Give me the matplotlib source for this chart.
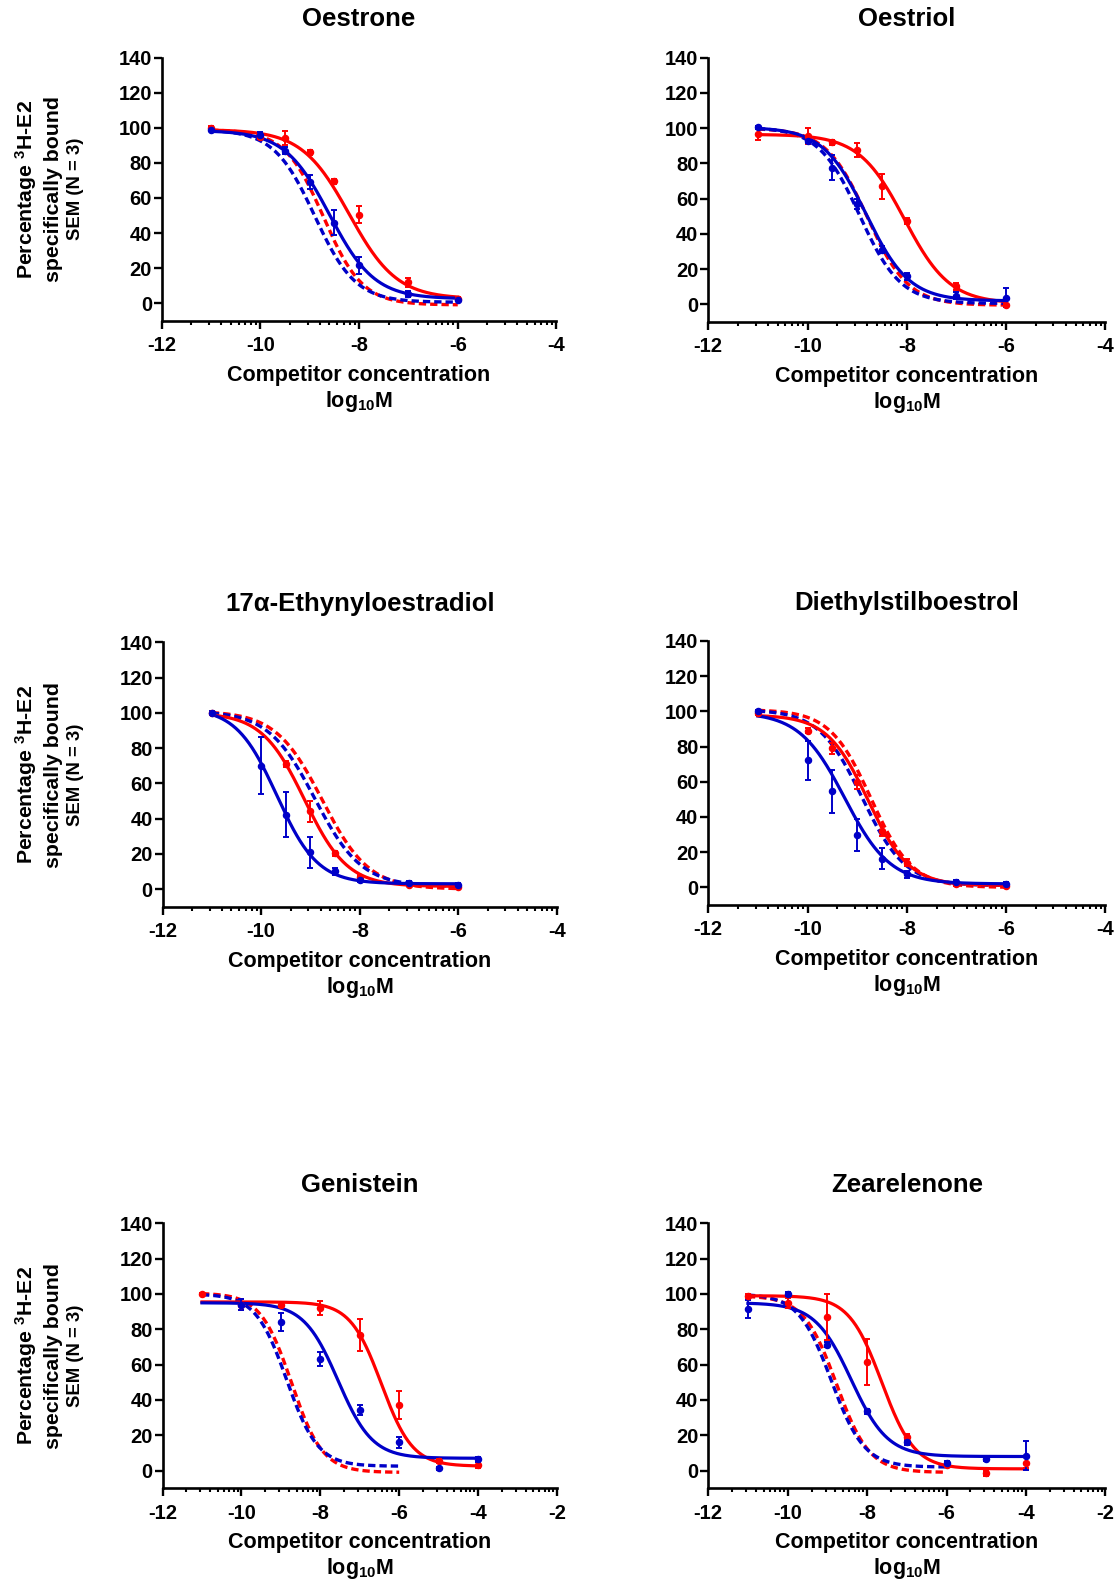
import numpy as np
import matplotlib
matplotlib.use("Agg")
import matplotlib.pyplot as plt

plt.rcParams["font.family"] = ["Liberation Sans", "DejaVu Sans"]
plt.rcParams["font.weight"] = "bold"
plt.rcParams["mathtext.fontset"] = "custom"
plt.rcParams["mathtext.rm"] = "Liberation Sans:bold"
plt.rcParams["mathtext.bf"] = "Liberation Sans:bold"
plt.rcParams["mathtext.it"] = "Liberation Sans:bold"
plt.rcParams["mathtext.default"] = "rm"

W, H = 1116, 1579
RED = "#ff0000"
BLUE = "#0000c8"

# competitor concentrations, log10 M
dose_a = [-11, -10, -9.5, -9, -8.5, -8, -7, -6]
dose_b = [-11, -10, -9, -8, -7, -6, -5, -4]

# mean % bound and SEM
oestrone_red = [100, 95, 94.3, 86, 69.5, 50.5, 12, 2.3]
oestrone_red_sem = [1, 1.5, 4, 1.5, 1.5, 5, 2.5, 1]
oestrone_blue = [99, 96, 87, 69, 46, 21.5, 5.3, 2]
oestrone_blue_sem = [1, 1.5, 2, 4, 7, 5, 1.5, 1]

oestriol_red = [96.5, 95.5, 92, 87.7, 67, 47.3, 10.4, -0.6]
oestriol_red_sem = [3, 4.5, 1.5, 4, 7, 1.5, 2, 1]
oestriol_blue = [100.4, 93, 77.5, 57, 31, 16, 5, 3.8]
oestriol_blue_sem = [1, 1.5, 7, 3, 2, 2, 2, 5.5]

ee2_red_x = [-11, -9.5, -9, -8.5, -8, -7, -6]
ee2_red = [100, 70.9, 44.2, 20.2, 7, 2.3, 1]
ee2_red_sem = [1, 1.5, 6, 1.5, 1, 0.8, 0.8]
ee2_blue = [100, 70, 42.3, 20.8, 10.2, 5.1, 3.6, 2.3]
ee2_blue_sem = [1, 16, 13, 9, 2, 1, 1, 1]

des_red = [98.9, 89, 79, 60, 32.2, 14, 1.9, 1]
des_red_sem = [1, 1.5, 3, 4, 3, 2, 1, 1]
des_blue = [100, 72.3, 54.5, 29.7, 16.3, 7.6, 3, 2]
des_blue_sem = [1, 11, 12, 9, 6, 2, 1, 1]

gen_red = [100, 94, 94, 92, 77, 37, 5.5, 3.2]
gen_red_sem = [0.8, 3, 1.5, 4, 9, 8, 1, 1.5]
gen_blue_x = [-10, -9, -8, -7, -6, -5, -4]
gen_blue = [94, 84, 63, 34.4, 16, 1.3, 6.4]
gen_blue_sem = [3, 5, 4, 3, 3, 0.8, 1.5]

zea_red = [99, 95, 87, 61.4, 18.9, 3, -1.5, 4.5]
zea_red_sem = [1, 3, 13, 13, 2, 1, 1.5, 3]
zea_blue = [91.5, 100, 71.3, 33.5, 16, 4.5, 6.4, 8.5]
zea_blue_sem = [5, 1, 1.5, 1.5, 1.5, 1, 1, 8]

# fitted curves as drawn: (top, bottom, logIC50, hill slope)
# order: red solid, blue solid, red dashed, blue dashed
oestrone_fit = [(99, 2.5, -8.2, 0.9), (98.5, 2.5, -8.6, 0.95),
                (99, -1, -8.72, 1.1), (99, 0.5, -8.9, 1.05)]
oestriol_fit = [(96.5, 0.5, -8.05, 0.95), (100.5, 2, -8.82, 1.0),
                (100, -0.5, -8.8, 1.05), (100.5, 0.5, -8.95, 1.05)]
ee2_fit = [(100, 1.5, -9.12, 1.0), (103, 3, -9.68, 1.05),
           (101, 0, -8.76, 0.92), (101, 1.5, -8.91, 0.92)]
des_fit = [(98, 1, -8.78, 1.05), (99.5, 2, -9.25, 0.95),
           (101, 0, -8.72, 1.05), (101, 1, -8.9, 1.0)]
gen_fit = [(95.5, 2.5, -6.45, 1.1), (95, 7, -7.55, 1.0),
           (100.5, -1, -8.73, 1.1), (100, 2.5, -8.85, 1.1)]
zea_fit = [(99, 1, -7.63, 1.05), (95, 8, -8.4, 0.95),
           (99, -1, -8.77, 1.05), (100, 2, -8.9, 1.05)]

titles = ["Oestrone", "Oestriol", "17\u03b1-Ethynyloestradiol",
          "Diethylstilboestrol", "Genistein", "Zearelenone"]

panels = [
    dict(title=titles[0], red=(dose_a, oestrone_red, oestrone_red_sem),
         blue=(dose_a, oestrone_blue, oestrone_blue_sem), fit=oestrone_fit,
         xmax=-4, end=-6, box=(161.8, 556.4, 57.7, 320.7)),
    dict(title=titles[1], red=(dose_a, oestriol_red, oestriol_red_sem),
         blue=(dose_a, oestriol_blue, oestriol_blue_sem), fit=oestriol_fit,
         xmax=-4, end=-6, box=(708.2, 1105.4, 57.7, 322)),
    dict(title=titles[2], red=(ee2_red_x, ee2_red, ee2_red_sem),
         blue=(dose_a, ee2_blue, ee2_blue_sem), fit=ee2_fit,
         xmax=-4, end=-6, box=(162.5, 557, 642.3, 906.7)),
    dict(title=titles[3], red=(dose_a, des_red, des_red_sem),
         blue=(dose_a, des_blue, des_blue_sem), fit=des_fit,
         xmax=-4, end=-6, box=(708.2, 1105.4, 641, 905)),
    dict(title=titles[4], red=(dose_b, gen_red, gen_red_sem),
         blue=(gen_blue_x, gen_blue, gen_blue_sem), fit=gen_fit,
         xmax=-2, end=-4, box=(162.5, 557, 1223.3, 1488.3)),
    dict(title=titles[5], red=(dose_b, zea_red, zea_red_sem),
         blue=(dose_b, zea_blue, zea_blue_sem), fit=zea_fit,
         xmax=-2, end=-4, box=(708.2, 1105.4, 1223.3, 1488.3)),
]


def sigmoid(x, top, bottom, logic50, hill):
    return bottom + (top - bottom) / (1 + 10 ** ((x - logic50) * hill))


fig = plt.figure(figsize=(W / 100, H / 100), dpi=100)

for i, p in enumerate(panels):
    left, right, top, bottom = p["box"]
    ax = fig.add_axes([left / W, 1 - bottom / H, (right - left) / W, (bottom - top) / H])

    # dashed reference curves
    xs = np.linspace(-11, -6, 300)
    for params, col in zip(p["fit"][2:], [RED, BLUE]):
        ax.plot(xs, sigmoid(xs, *params), color=col, lw=2.4, ls=(0, (2.2, 1.2)),
                zorder=2)
    # solid fitted curves
    xs = np.linspace(-11, p["end"], 300)
    for params, col in zip(p["fit"][:2], [RED, BLUE]):
        ax.plot(xs, sigmoid(xs, *params), color=col, lw=2.3, zorder=3)
    # data points with SEM
    for (x, y, e), col in [(p["red"], RED), (p["blue"], BLUE)]:
        ax.errorbar(x, y, yerr=e, fmt="o", color=col, ms=4.4, elinewidth=1.4,
                    capsize=2.2, capthick=1.4, zorder=4)

    ax.set_xlim(-12, p["xmax"])
    ax.set_ylim(-10, 140)
    ax.set_yticks(np.arange(0, 141, 20))
    majors = np.arange(-12, p["xmax"] + 1, 2)
    ax.set_xticks(majors)
    ax.set_xticklabels([str(int(v)) for v in majors])
    minors = [m + 2 * np.log10(k) for m in majors[:-1] for k in range(2, 10)]
    ax.set_xticks(minors, minor=True)

    for s in ["top", "right"]:
        ax.spines[s].set_visible(False)
    for s in ["left", "bottom"]:
        ax.spines[s].set_linewidth(1.9)
    ax.tick_params(axis="both", which="major", length=5.5, width=1.7,
                   labelsize=14.5, direction="out")
    ax.tick_params(axis="y", pad=1.5)
    ax.tick_params(axis="x", pad=5.5)
    ax.tick_params(axis="x", which="minor", length=3, width=1.5)
    for lab in ax.get_xticklabels() + ax.get_yticklabels():
        lab.set_fontweight("bold")

    ax.set_title(p["title"], fontsize=18.5, fontweight="bold", pad=22.5)

    cx = (left + right) / 2
    fig.text(cx / W, 1 - (bottom + 60) / H, "Competitor concentration",
             ha="center", va="baseline", fontsize=15.5, fontweight="bold")
    fig.text(cx / W, 1 - (bottom + 86) / H, "log$_{10}$M",
             ha="center", va="baseline", fontsize=15.5, fontweight="bold")

    if i % 2 == 0:
        cy = 1 - (top + bottom) / 2 / H
        fig.text(25.7 / W, cy, "Percentage $^{3}$H-E2", rotation=90,
                 ha="center", va="center", fontsize=15.3, fontweight="bold")
        fig.text(53.6 / W, cy, "specifically bound", rotation=90,
                 ha="center", va="center", fontsize=15.3, fontweight="bold")
        fig.text(75.7 / W, cy, "SEM (N = 3)", rotation=90,
                 ha="center", va="center", fontsize=13.3, fontweight="bold")

fig.savefig("out.png", dpi=100)
